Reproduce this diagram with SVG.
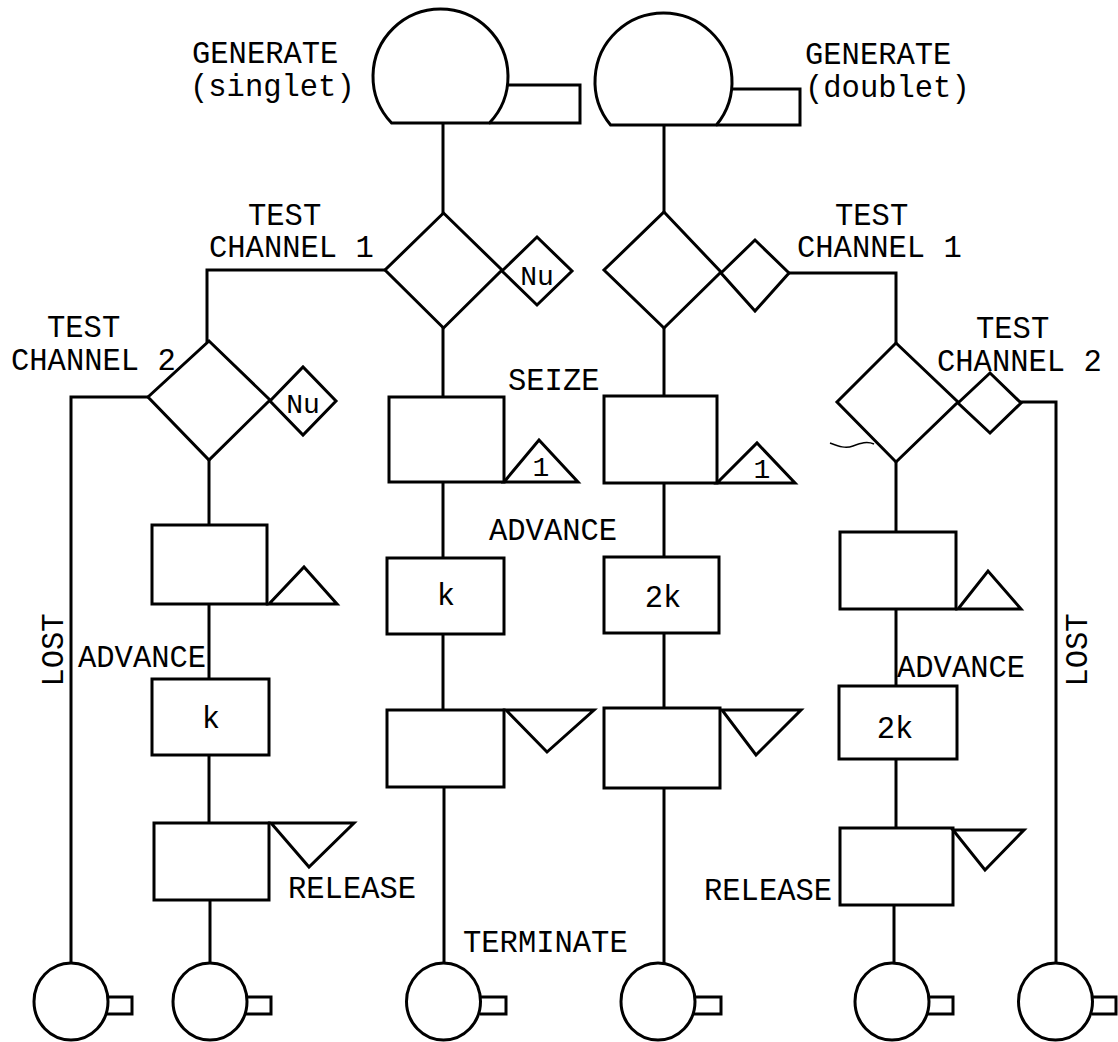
<svg xmlns="http://www.w3.org/2000/svg" width="1118" height="1042" viewBox="0 0 1118 1042">
<style>
.ln{fill:none;stroke:#000;stroke-width:3;stroke-linecap:square}
.sh{fill:#fff;stroke:#000;stroke-width:3;stroke-linejoin:miter}
.op{fill:none;stroke:#000;stroke-width:3;stroke-linejoin:miter}
.t{font-family:"Liberation Mono","Courier New",monospace;font-size:30.5px;fill:#000}
.s{font-family:"Liberation Mono","Courier New",monospace;font-size:28px;fill:#000}
.m{text-anchor:middle}
</style>
<rect width="1118" height="1042" fill="#fff"/>

<g id="connectors">
<path class="ln" d="M443 123V213"/>
<path class="ln" d="M385 270H207V341"/>
<path class="ln" d="M148 397H71V963"/>
<path class="ln" d="M209 460V525"/>
<path class="ln" d="M209 604V679"/>
<path class="ln" d="M209 755V823"/>
<path class="ln" d="M210 900V962"/>
<path class="ln" d="M443 328V397"/>
<path class="ln" d="M443 482V558"/>
<path class="ln" d="M443 634V710"/>
<path class="ln" d="M444 787V963"/>
<path class="ln" d="M664 125V212"/>
<path class="ln" d="M664 328V396"/>
<path class="ln" d="M664 483V557"/>
<path class="ln" d="M664 633V708"/>
<path class="ln" d="M664 788V963"/>
<path class="ln" d="M789 273H896V343"/>
<path class="ln" d="M896 462V532"/>
<path class="ln" d="M896 609V686"/>
<path class="ln" d="M896 759V828"/>
<path class="ln" d="M894 905V963"/>
<path class="ln" d="M1021 402H1056V963"/>
</g>

<g id="gen-singlet">
<path class="sh" d="M391.6 123A67.5 67.5 0 1 1 489.4 123Z"/>
<path class="op" d="M507.5 85H580V123H489.4"/>
<text class="t" x="192" y="63">GENERATE</text>
<text class="t" x="190" y="96">(singlet)</text>
</g>

<g id="gen-doublet">
<path class="sh" d="M610.6 125A68.5 68.5 0 1 1 716.4 125Z"/>
<path class="op" d="M731.6 89H800V125H716.4"/>
<text class="t" x="805" y="64">GENERATE</text>
<text class="t" x="805" y="97">(doublet)</text>
</g>

<g id="test-ch1-singlet">
<polygon class="sh" points="443.5,213 502,270 443.5,328 385,270"/>
<polygon class="sh" points="502,271 537,237 572,271 537,305"/>
<text class="s m" x="537" y="285">Nu</text>
<text class="t" x="248" y="225">TEST</text>
<text class="t" x="209" y="257">CHANNEL 1</text>
</g>

<g id="test-ch2-singlet">
<polygon class="sh" points="209,341 270,400 209,460 148,397"/>
<polygon class="sh" points="270,401 303,367 336,401 303,435"/>
<text class="s m" x="303" y="413">Nu</text>
<text class="t" x="47" y="337">TEST</text>
<text class="t" x="11" y="370">CHANNEL 2</text>
</g>

<g id="test-ch1-doublet">
<polygon class="sh" points="664,212 721,272 664,328 604,270"/>
<polygon class="sh" points="721,273 755,240 789,273 755,311"/>
<text class="t" x="835" y="225">TEST</text>
<text class="t" x="797" y="257">CHANNEL 1</text>
</g>

<g id="test-ch2-doublet">
<polygon class="sh" points="896,343 958,402 896,462 837,402"/>
<polygon class="sh" points="958,403 990,373 1021,403 990,433"/>
<text class="t" x="976" y="338">TEST</text>
<text class="t" x="937" y="371">CHANNEL 2</text>
<path d="M830 443C838 446 845 449 853 446S867 441 874 444" fill="none" stroke="#000" stroke-width="1.5"/>
</g>

<g id="lost-left">
<text class="t m" transform="translate(63 650) rotate(-90)">LOST</text>
</g>
<g id="lost-right">
<text class="t m" transform="translate(1087 650) rotate(-90)">LOST</text>
</g>

<g id="queue-b">
<rect class="sh" x="152" y="525" width="115" height="79"/>
<polygon class="sh" points="269,604 337,604 304,567"/>
</g>
<g id="advance-b">
<rect class="sh" x="152" y="679" width="117" height="76"/>
<text class="t m" x="211" y="728">k</text>
<text class="t" x="78" y="667">ADVANCE</text>
</g>
<g id="release-b">
<rect class="sh" x="154" y="823" width="115" height="77"/>
<polygon class="sh" points="271,823 354,823 309,867"/>
<text class="t" x="288" y="898">RELEASE</text>
</g>

<g id="seize-c">
<rect class="sh" x="389" y="397" width="115" height="85"/>
<polygon class="sh" points="504,482 578,482 539,440"/>
<text class="s m" x="541" y="476">1</text>
<text class="t" x="508" y="390">SEIZE</text>
</g>
<g id="advance-c">
<rect class="sh" x="387" y="558" width="117" height="76"/>
<text class="t m" x="446" y="605">k</text>
<text class="t" x="489" y="540">ADVANCE</text>
</g>
<g id="release-c">
<rect class="sh" x="387" y="710" width="117" height="77"/>
<polygon class="sh" points="506,710 594,710 547,752"/>
</g>

<g id="seize-d">
<rect class="sh" x="604" y="396" width="113" height="87"/>
<polygon class="sh" points="717,483 795,483 757,443"/>
<text class="s m" x="762" y="478">1</text>
</g>
<g id="advance-d">
<rect class="sh" x="604" y="557" width="115" height="76"/>
<text class="t m" x="663" y="607">2k</text>
</g>
<g id="release-d">
<rect class="sh" x="604" y="708" width="116" height="80"/>
<polygon class="sh" points="722,710 801,710 756,755"/>
</g>

<g id="queue-e">
<rect class="sh" x="840" y="532" width="116" height="77"/>
<polygon class="sh" points="958,609 1021,609 988,571"/>
</g>
<g id="advance-e">
<rect class="sh" x="839" y="686" width="118" height="73"/>
<text class="t m" x="895" y="738">2k</text>
<text class="t" x="897" y="677">ADVANCE</text>
</g>
<g id="release-e">
<rect class="sh" x="840" y="828" width="113" height="77"/>
<polygon class="sh" points="953,830 1024,830 985,870"/>
<text class="t" x="704" y="900">RELEASE</text>
</g>

<g id="term-a">
<ellipse class="sh" cx="71" cy="1001.5" rx="37" ry="38.5"/>
<path class="op" d="M107 997H132V1014H107"/>
</g>
<g id="term-b">
<ellipse class="sh" cx="210" cy="1001.5" rx="37" ry="38.5"/>
<path class="op" d="M246 997H271V1014H246"/>
</g>
<g id="term-c">
<ellipse class="sh" cx="443.5" cy="1001.5" rx="37" ry="38.5"/>
<path class="op" d="M480 997H506V1014H480"/>
<text class="t" x="463" y="952">TERMINATE</text>
</g>
<g id="term-d">
<ellipse class="sh" cx="658" cy="1001.5" rx="37" ry="38.5"/>
<path class="op" d="M694 997H721V1014H694"/>
</g>
<g id="term-e">
<ellipse class="sh" cx="892" cy="1001.5" rx="37" ry="38.5"/>
<path class="op" d="M928 997H953V1014H928"/>
</g>
<g id="term-f">
<ellipse class="sh" cx="1055.5" cy="1001.5" rx="37" ry="38.5"/>
<path class="op" d="M1092 997H1116V1014H1092"/>
</g>
</svg>
